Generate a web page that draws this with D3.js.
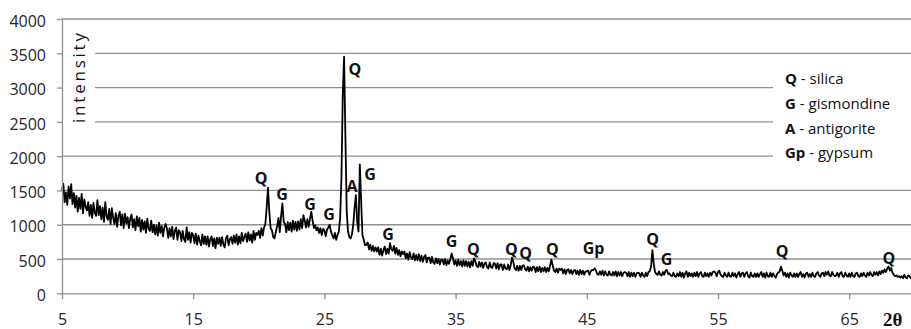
<!DOCTYPE html>
<html>
<head>
<meta charset="utf-8">
<script src="https://cdn.jsdelivr.net/npm/d3@7"></script>
<style>
  body { margin: 0; background: #fff; }
  svg { display: block; font-family: 'Open Sans', sans-serif; }
</style>
</head>
<body>
<svg id="chart" width="911" height="329"></svg>
<script>
// diffraction scan, every 0.1 deg (2theta) from 5.0
const startAngle = 5
const angleStep = 0.1
const intensity = [
  1500,1600,1330,1470,1290,1560,1380,1590,1300,1460, // 5
  1250,1420,1190,1390,1230,1450,1170,1370,1260,1210, // 6
  1330,1130,1290,1100,1320,1170,1130,1360,1140,1270, // 7
  1080,1250,1040,1330,1120,1070,1230,1010,1240,1100, // 8
  1010,1170,970,1130,1190,990,1150,950,1160,1020,    // 9
  1110,950,1090,1150,960,1080,920,1120,980,1100,     // 10
  900,1070,930,1050,880,1090,940,910,1060,890,       // 11
  1000,860,990,840,1030,880,980,830,960,1010,        // 12
  940,810,950,830,970,790,910,960,780,920,           // 13
  890,760,910,790,750,960,780,890,740,880,           // 14
  850,730,870,710,840,760,700,860,720,830,           // 15
  710,830,680,790,830,690,800,660,810,720,           // 16
  810,690,820,710,670,800,840,700,790,820,           // 17
  720,840,740,860,710,830,730,880,760,820,           // 18
  870,750,890,770,860,740,910,780,880,850,           // 19
  910,810,950,840,960,1010,1250,1540,1190,950,       // 20
  920,820,800,900,980,1100,890,1130,1310,1040,       // 21
  1010,890,1040,920,1030,900,1060,930,1040,910,      // 22
  1050,930,1080,950,1140,1060,960,1080,970,1090,     // 23
  1190,1060,950,990,920,960,880,950,850,940,         // 24
  920,830,930,960,1000,900,850,800,880,780,          // 25
  850,900,1100,1700,2900,3450,2300,1200,900,820,     // 26
  800,860,1000,1250,1430,1050,900,1880,1350,850,     // 27
  780,700,710,740,640,710,620,690,610,670,           // 28
  610,670,560,650,550,630,680,570,650,580,           // 29
  730,640,620,690,580,660,560,630,540,610,           // 30
  570,610,510,580,490,600,520,500,580,480,           // 31
  560,480,570,470,550,460,530,560,450,520,           // 32
  520,440,530,450,430,510,440,500,420,490,           // 33
  490,420,500,410,480,430,500,580,510,420,           // 34
  480,400,490,410,470,390,480,400,470,390,           // 35
  460,380,470,400,510,470,400,380,460,390,           // 36
  450,370,440,450,380,360,450,380,370,440,           // 37
  430,360,440,350,420,420,340,420,360,350,           // 38
  420,340,410,520,460,360,340,400,330,400,           // 39
  340,400,410,350,330,390,320,380,330,390,           // 40
  380,310,380,320,390,310,370,320,380,310,           // 41
  370,320,400,490,410,330,310,360,300,360,           // 42
  340,360,290,350,280,340,350,290,340,280,           // 43
  330,340,280,330,270,340,280,330,270,320,           // 44
  320,330,270,320,340,340,365,330,280,270,           // 45
  320,270,330,260,320,270,260,320,270,260,           // 46
  310,260,320,250,310,260,310,250,300,310,           // 47
  300,250,310,240,300,250,300,240,290,300,           // 48
  290,240,300,260,240,300,250,310,320,390,           // 49
  630,440,310,280,270,320,270,260,310,270,           // 50
  330,340,280,290,260,250,300,250,240,290,           // 51
  250,310,240,300,230,290,320,240,300,250,           // 52
  290,240,300,250,310,240,290,310,250,240,           // 53
  300,250,290,240,300,260,310,320,300,250,           // 54
  310,330,270,250,240,300,260,240,300,250,           // 55
  240,300,250,290,230,280,310,240,290,300,           // 56
  240,290,310,250,230,300,250,240,290,240,           // 57
  290,240,280,310,240,290,230,300,250,240,           // 58
  300,240,290,250,230,280,300,320,390,330,           // 59
  260,300,240,290,230,300,260,240,290,240,           // 60
  290,240,280,310,240,280,230,290,300,240,           // 61
  280,240,300,250,240,290,310,260,240,290,           // 62
  300,250,310,270,320,260,250,310,270,250,           // 63
  260,300,240,290,310,250,240,300,260,240,           // 64
  290,240,300,250,240,290,300,250,240,290,           // 65
  250,300,260,240,300,260,310,270,250,310,           // 66
  270,310,260,320,280,330,300,350,310,360,           // 67
  390,330,370,300,270,250,260,240,250,230,           // 68
  250,220,270,230,220,260,250,220,260,230            // 69
]

const xTicks = [5, 15, 25, 35, 45, 55, 65]
const yTicks = [0, 500, 1000, 1500, 2000, 2500, 3000, 3500, 4000]

// phase marks over the peaks: letter, 2theta of label centre, intensity of label baseline
const peakNames  = ['Q', 'G', 'G', 'G', 'Q', 'A', 'G', 'G', 'G', 'Q', 'Q', 'Q', 'Q', 'Gp', 'Q', 'G', 'Q', 'Q']
const peakAngles = [20.17, 21.77, 23.9, 25.35, 27.33, 27.1, 28.48, 29.85, 34.69, 36.36, 39.26, 40.33, 42.38, 45.51, 50.01, 51.07, 59.88, 68.03]
const peakLevels = [1594, 1360, 1215, 1069, 3183, 1477, 1652, 777, 675, 558, 558, 500, 558, 573, 704, 413, 529, 427]

const legendCodes = ['Q', 'G', 'A', 'Gp']
const legendNames = ['silica', 'gismondine', 'antigorite', 'gypsum']

const svg = d3.select('#chart')
const gridColor = '#8f8f8f'

const x = d3.scaleLinear().domain([5, 70]).range([62, 914.8])
const y = d3.scaleLinear().domain([0, 4000]).range([293.3, 19])

const points = intensity.map((v, i) => ({ angle: startAngle + i * angleStep, value: v }))

// horizontal gridlines
svg.append('g')
  .selectAll('line')
  .data(yTicks.slice(1))
  .enter().append('line')
    .attr('x1', x(5))
    .attr('x2', 911)
    .attr('y1', d => y(d))
    .attr('y2', d => y(d))
    .attr('stroke', gridColor)
    .attr('stroke-width', 1.3)

// white boxes behind the axis title and the legend
svg.append('rect').attr('x', 63).attr('y', 28).attr('width', 32).attr('height', 112).attr('fill', '#fff')
svg.append('rect').attr('x', 773).attr('y', 62).attr('width', 140).attr('height', 108).attr('fill', '#fff')

// the scan
svg.append('path')
  .datum(points)
  .attr('fill', 'none')
  .attr('stroke', '#000')
  .attr('stroke-width', 1.8)
  .attr('stroke-linejoin', 'round')
  .attr('d', d3.line().x(d => x(d.angle)).y(d => y(d.value)))

// axes
const yAxis = svg.append('g')
  .attr('transform', `translate(${x(5)},0)`)
  .call(d3.axisLeft(y).tickValues(yTicks).tickFormat(d3.format('d')).tickSize(5).tickSizeOuter(0).tickPadding(11))
yAxis.selectAll('text').attr('dy', '0.45em')

const xAxis = svg.append('g')
  .attr('transform', `translate(0,${y(0)})`)
  .call(d3.axisBottom(x).tickValues(xTicks).tickFormat(d3.format('d')).tickSize(6).tickSizeOuter(0).tickPadding(14))

svg.selectAll('.domain, .tick line').attr('stroke', gridColor).attr('stroke-width', 1.3)
svg.selectAll('.tick text')
  .attr('fill', '#262626')
  .attr('font-size', 16)
  .attr('font-family', "'Open Sans', sans-serif")

// axis titles
svg.append('text')
  .attr('transform', 'translate(85,78) rotate(-90)')
  .attr('text-anchor', 'middle')
  .attr('font-size', 17)
  .attr('textLength', 90)
  .attr('lengthAdjust', 'spacing')
  .attr('fill', '#111')
  .text('intensity')

svg.append('text')
  .attr('x', 883)
  .attr('y', 326)
  .attr('font-family', "'Liberation Serif', serif")
  .attr('font-weight', 'bold')
  .attr('font-size', 19)
  .attr('fill', '#111')
  .text('2θ')

// peak letters
svg.append('g')
  .selectAll('text')
  .data(peakNames)
  .enter().append('text')
    .attr('x', (d, i) => x(peakAngles[i]))
    .attr('y', (d, i) => y(peakLevels[i]))
    .attr('text-anchor', 'middle')
    .attr('font-size', 16)
    .attr('font-weight', 'bold')
    .attr('fill', '#111')
    .text(d => d)

// legend
const legend = svg.append('g')
  .selectAll('text')
  .data(legendCodes)
  .enter().append('text')
    .attr('x', 785)
    .attr('y', (d, i) => 84 + i * 24.8)
    .attr('font-size', 15)
    .attr('fill', '#111')
legend.append('tspan').attr('font-weight', 'bold').text(d => d)
legend.append('tspan').text((d, i) => ' - ' + legendNames[i])
</script>
</body>
</html>
